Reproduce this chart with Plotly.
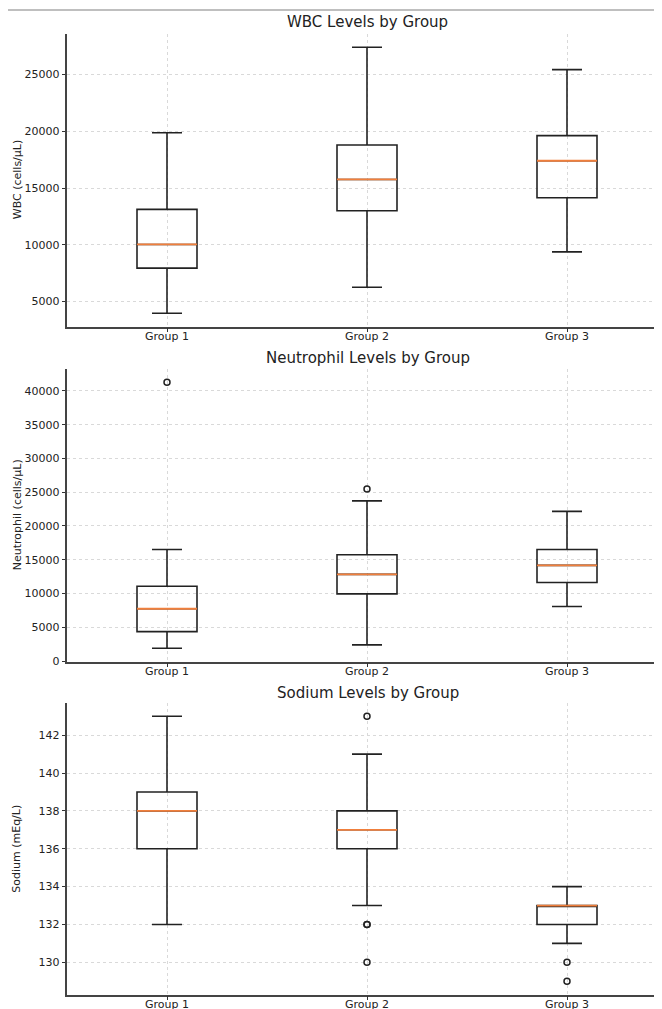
import plotly.graph_objects as go

groups = ["Group 1", "Group 2", "Group 3"]
positions = [1, 2, 3]

# WBC (cells/µL)
wbc_lower = [3970, 6260, 9380]
wbc_q1 = [7940, 13000, 14150]
wbc_median = [10030, 15760, 17410]
wbc_q3 = [13120, 18800, 19620]
wbc_upper = [19880, 27410, 25440]
wbc_outliers = [[], [], []]

# Neutrophil (cells/µL)
neu_lower = [1900, 2390, 8080]
neu_q1 = [4360, 9950, 11620]
neu_median = [7740, 12840, 14160]
neu_q3 = [11080, 15740, 16525]
neu_upper = [16525, 23720, 22165]
neu_outliers = [[41280], [25490], []]

# Sodium (mEq/L)
na_lower = [132, 133, 131]
na_q1 = [136, 136, 132]
na_median = [138, 137, 133]
na_q3 = [139, 138, 133]
na_upper = [143, 141, 134]
na_outliers = [[], [143, 132, 132, 130], [130, 129]]

panels = [
    ("WBC Levels by Group", "WBC (cells/μL)", wbc_lower, wbc_q1, wbc_median, wbc_q3, wbc_upper, wbc_outliers, 5000),
    ("Neutrophil Levels by Group", "Neutrophil (cells/μL)", neu_lower, neu_q1, neu_median, neu_q3, neu_upper, neu_outliers, 5000),
    ("Sodium Levels by Group", "Sodium (mEq/L)", na_lower, na_q1, na_median, na_q3, na_upper, na_outliers, 2),
]

OFF = 8  # default page body margin
W, H = 662 - OFF, 1009 - OFF
box_w = 0.3
font = "DejaVu Sans"
# window-pixel extents of plot areas (top, bottom)
pix = [(34, 326.5), (369, 661.5), (703, 994.5)]
title_y = [22, 358, 692.5]
left_px = 67
right_px = 662


def px_x(p):
    return (p - OFF) / W


def px_y(p):
    return 1 - (p - OFF) / H


fig = go.Figure()
annotations = []
layout_axes = {}

for i, (title, ylabel, lo, q1, med, q3, up, outl, dt) in enumerate(panels):
    n = i + 1
    xa = "x" if n == 1 else f"x{n}"
    ya = "y" if n == 1 else f"y{n}"
    fig.add_trace(go.Box(
        x=positions, q1=q1, median=med, q3=q3, lowerfence=lo, upperfence=up,
        width=box_w, whiskerwidth=0.5,
        line=dict(color="#222222", width=1.6), fillcolor="rgba(0,0,0,0)",
        xaxis=xa, yaxis=ya, showlegend=False, hoverinfo="skip",
    ))
    for p, m in zip(positions, med):
        fig.add_trace(go.Scatter(
            x=[p - box_w / 2, p + box_w / 2], y=[m, m], mode="lines",
            line=dict(color="#f07f3c", width=1.8), xaxis=xa, yaxis=ya,
            showlegend=False, hoverinfo="skip",
        ))
    ox, oy = [], []
    for p, vals in zip(positions, outl):
        for v in vals:
            ox.append(p)
            oy.append(v)
    if ox:
        fig.add_trace(go.Scatter(
            x=ox, y=oy, mode="markers",
            marker=dict(symbol="circle-open", size=6, color="#222222", line=dict(width=1.5)),
            xaxis=xa, yaxis=ya, showlegend=False, hoverinfo="skip",
        ))
    allv = lo + up + [v for vs in outl for v in vs]
    vmin, vmax = min(allv), max(allv)
    pad = 0.05 * (vmax - vmin)
    top, bot = pix[i]
    layout_axes["xaxis" if n == 1 else f"xaxis{n}"] = dict(
        domain=[px_x(left_px), 1], anchor=ya,
        range=[0.5, 0.5 + (right_px - left_px) / 200],
        tickvals=positions, ticktext=groups, ticks="outside", ticklen=3.5,
        ticklabelstandoff=-5,
        tickcolor="#333", showline=True, linecolor="#444", linewidth=1.5,
        showgrid=True, gridcolor="#d9d9d9", griddash="dot", gridwidth=0.8,
        zeroline=False, tickfont=dict(family=font, size=11, color="#222"),
        automargin=False,
    )
    layout_axes["yaxis" if n == 1 else f"yaxis{n}"] = dict(
        domain=[px_y(bot), px_y(top)], anchor=xa, range=[vmin - pad, vmax + pad],
        dtick=dt, tickformat="d", ticks="outside", ticklen=3.5, tickcolor="#333",
        showline=True, linecolor="#444", linewidth=1.5,
        showgrid=True, gridcolor="#d9d9d9", griddash="dot", gridwidth=0.8,
        zeroline=False, tickfont=dict(family=font, size=11, color="#222"),
        automargin=False,
    )
    annotations.append(dict(
        text=title, xref="paper", yref="paper", x=px_x((left_px + 668) / 2), y=px_y(title_y[i]),
        xanchor="center", yanchor="middle", showarrow=False,
        font=dict(family=font, size=15, color="#222"),
    ))
    annotations.append(dict(
        text=ylabel, xref="paper", yref="paper", x=px_x(17), y=px_y((top + bot) / 2),
        xanchor="center", yanchor="middle", showarrow=False, textangle=-90,
        font=dict(family=font, size=11, color="#222"),
    ))

fig.update_layout(
    width=W, height=H, margin=dict(l=0, r=0, t=0, b=0, autoexpand=False),
    paper_bgcolor="white", plot_bgcolor="white",
    annotations=annotations,
    shapes=[dict(type="line", xref="paper", yref="paper", x0=0, x1=1,
                 y0=px_y(10), y1=px_y(10), line=dict(color="#aaaaaa", width=1.5))],
    **layout_axes,
)

fig.write_html("out.html")
